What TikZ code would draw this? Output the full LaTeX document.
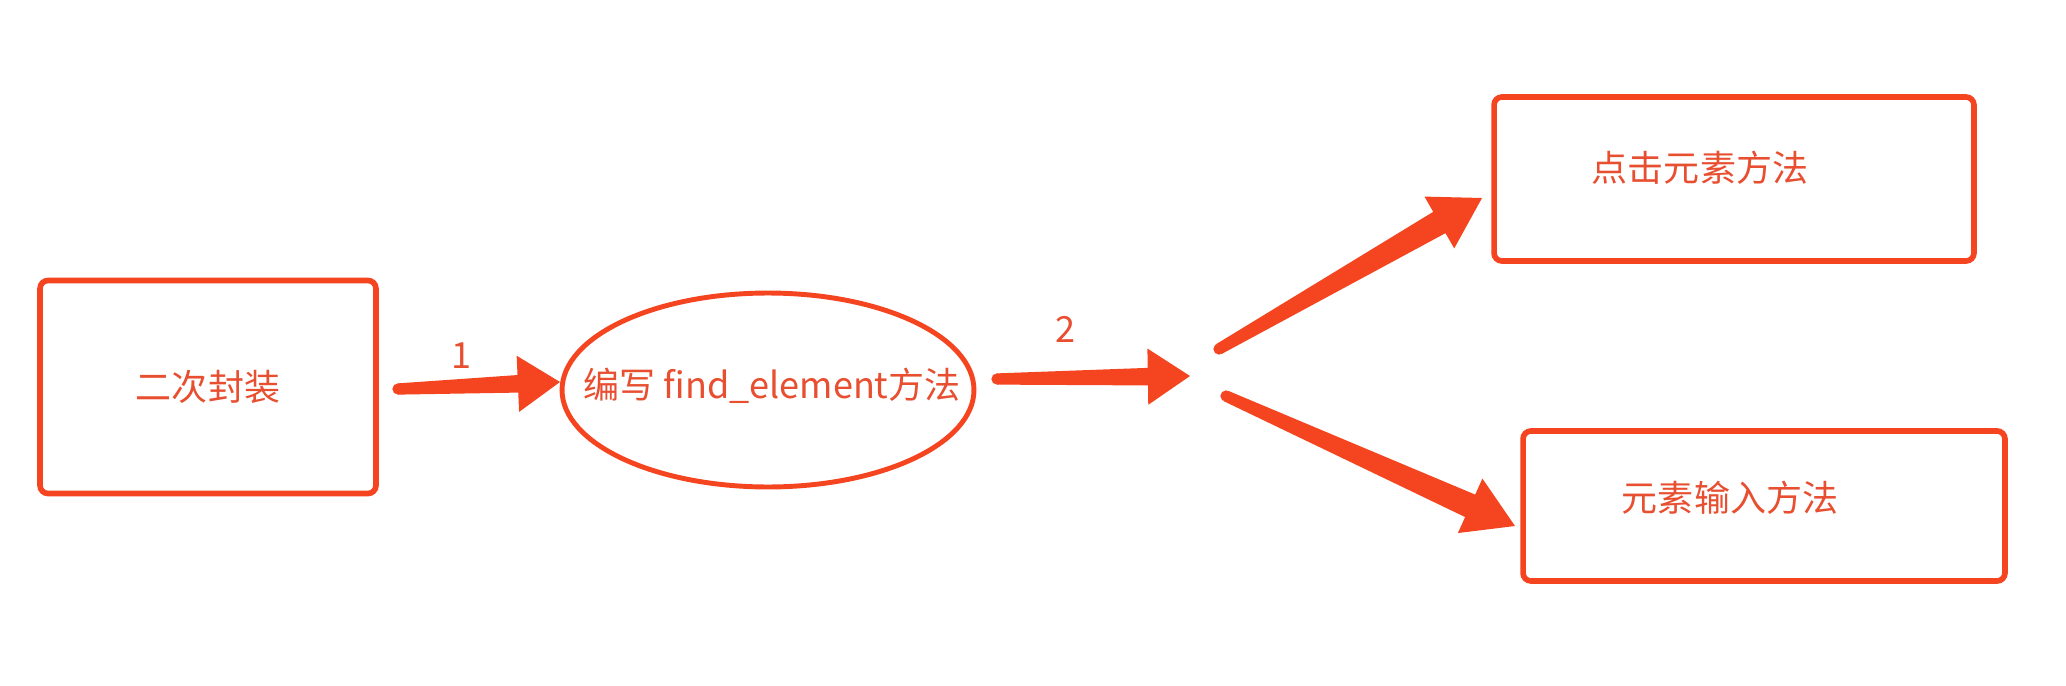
\documentclass[tikz,border=0pt]{standalone}
\usepackage{fontspec}
\newfontfamily\cjk{Noto Sans CJK SC}
\usetikzlibrary{shapes.geometric, calc}
\definecolor{linered}{RGB}{245,68,32}
\definecolor{labelred}{RGB}{232,78,48}
\tikzset{
  box/.style={draw=linered, line width=3.2pt, rounded corners=4.5pt, inner sep=0pt},
  oval/.style={ellipse, draw=linered, line width=2.8pt, inner sep=0pt},
  txt/.style={text=labelred, font=\cjk\fontsize{20.5}{24}\selectfont},
}
% tapered arrow: from, to, tail half width, shaft half width, head length, head half width
\newcommand{\fatarrow}[6]{%
  \coordinate (hb) at ($(#2)!#5!(#1)$);
  \fill[linered] ($(#1)!#3!90:(#2)$) -- ($(hb)!#4!90:(#2)$) -- ($(hb)!#6!90:(#2)$) -- (#2)
    -- ($(hb)!#6!-90:(#2)$) -- ($(hb)!#4!-90:(#2)$) -- ($(#1)!#3!-90:(#2)$) -- cycle;
  \fill[linered] (#1) circle (#3);
}
\begin{document}
\begin{tikzpicture}[x=0.02cm, y=-0.02cm]
\fill[white] (0,0) rectangle (2066,686);
\useasboundingbox (0,0) rectangle (2066,686);
% nodes
\node[box, txt, minimum width=6.72cm, minimum height=4.26cm] (wrap) at (208,387) {二次封装};
\node[oval, txt, minimum width=8.24cm, minimum height=3.88cm] (find) at (768,390) {};
\node[txt] (findtxt) at (772,386) {编写 find\_element方法};
\node[box, minimum width=9.6cm, minimum height=3.28cm] (click) at (1734,179) {};
\node[txt] (clicktxt) at (1700,168) {点击元素方法};
\node[box, minimum width=9.64cm, minimum height=3cm] (input) at (1764,506) {};
\node[txt] (inputtxt) at (1730,498) {元素输入方法};
% arrow ends
\coordinate (a1s) at (398,389);
\coordinate (a1e) at (560,382);
\coordinate (a2s) at (997,379);
\coordinate (a2e) at (1190,376);
\coordinate (ups) at (1219,349);
\coordinate (upe) at (1482,198);
\coordinate (lows) at (1226,396);
\coordinate (lowe) at (1515,526);
\fatarrow{a1s}{a1e}{3.2pt}{5pt}{24pt}{16pt}
\fatarrow{a2s}{a2e}{3.2pt}{5pt}{24pt}{16pt}
\fatarrow{ups}{upe}{3.2pt}{7pt}{28pt}{17pt}
\fatarrow{lows}{lowe}{3.2pt}{7pt}{28pt}{17pt}
\node[txt] (one) at (461,356) {1};
\node[txt] (two) at (1065,329) {2};
\end{tikzpicture}
\end{document}
